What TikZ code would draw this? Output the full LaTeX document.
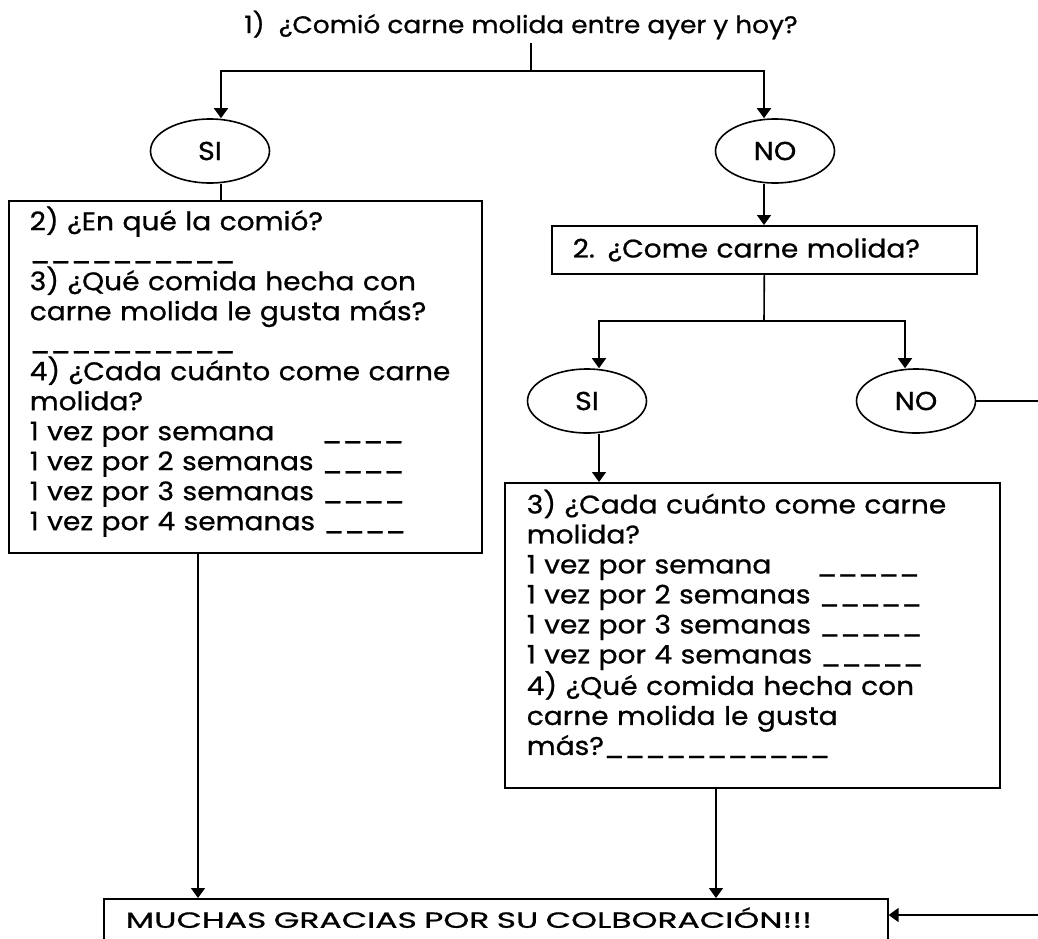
\documentclass[tikz,border=0pt]{standalone}
\usepackage{fontspec}
\setmainfont[FakeBold=0.8, FakeStretch=1.1]{Poppins}
\usetikzlibrary{arrows.meta, positioning, shapes.geometric}

\tikzset{
  flow/.style={line width=1.6pt, draw=black},
  arr/.style={flow, -{Triangle[length=10pt, width=14pt]}},
  answer/.style={ellipse, draw, line width=1.6pt, minimum width=119pt,
    minimum height=64pt, inner sep=0pt, font=\fontsize{26}{28}\selectfont},
  qbox/.style={rectangle, draw, line width=1.6pt, anchor=north west,
    align=left, inner xsep=21pt, font=\fontsize{25.5}{30}\selectfont},
}

\begin{document}
\begin{tikzpicture}[x=1pt, y=-1pt]
\useasboundingbox (0,0) rectangle (1038,938);
\clip (0,0) rectangle (1038,938);

% Question 1
\node[font=\fontsize{24}{26}\selectfont, inner sep=3pt] (q1) at (521,25) {1)~~¿Comió carne molida entre ayer y hoy?};
\coordinate (sp1) at (531,71);
\node[answer] (si1) at (210,151) {SI};
\node[answer] (no1) at (775,151) {NO};
\draw[flow] (q1.south -| sp1) -- (sp1);
\draw[arr] (sp1) -| ([xshift=11pt]si1.north);
\draw[arr] (sp1) -| ([xshift=-11pt]no1.north);

% Left branch
\node[qbox, minimum width=473pt, minimum height=352pt, text width=431pt] (b1) at (8,200) {%
2) ¿En qué la comió?\\
\_\_\_\_\_\_\_\_\_\_\\
3) ¿Qué comida hecha con\\
carne molida le gusta más?\\
\_\_\_\_\_\_\_\_\_\_\\
4) ¿Cada cuánto come carne\\
molida?\\
\makebox[292pt][l]{1 vez por semana}\_\_\_\_\\
1 vez por 2 semanas \_\_\_\_\\
1 vez por 3 semanas \_\_\_\_\\
1 vez por 4 semanas \_\_\_\_\rule[-17pt]{0pt}{17pt}};
\draw[flow] ([xshift=11pt]si1.south) -- ([xshift=11pt]si1.south |- b1.north);

% Right branch
\node[qbox, minimum width=425pt, minimum height=48pt, text width=383pt] (b2) at (551,225) {2. ¿Come carne molida?};
\draw[arr] ([xshift=-11pt]no1.south) -- ([xshift=-11pt]no1.south |- b2.north);
\coordinate (sp2) at (764,321);
\node[answer] (si2) at (587,401) {SI};
\node[answer] (no2) at (916,401) {NO};
\draw[flow] (b2.south) -- (sp2);
\draw[arr] (sp2) -| ([xshift=12pt]si2.north);
\draw[arr] (sp2) -| ([xshift=-11pt]no2.north);

\node[qbox, minimum width=495pt, minimum height=305pt, text width=451pt] (b3) at (504,482) {%
3) ¿Cada cuánto come carne\\
molida?\\
\makebox[290pt][l]{1 vez por semana}\_\_\_\_\_\\
1 vez por 2 semanas \_\_\_\_\_\\
1 vez por 3 semanas \_\_\_\_\_\\
1 vez por 4 semanas \_\_\_\_\_\\
4) ¿Qué comida hecha con\\
carne molida le gusta\\
más?\_\_\_\_\_\_\_\_\_\_\_\rule[-26pt]{0pt}{26pt}};
\draw[arr] ([xshift=12pt]si2.south) -- ([xshift=12pt]si2.south |- b3.north);

% Closing box
\node[qbox, minimum width=777pt, minimum height=46pt, text width=740pt, inner xsep=22pt,
  text height=17pt, text depth=5pt, inner ysep=4pt,
  font=\fontsize{22}{24}\selectfont\addfontfeature{FakeStretch=1.5}] (fin) at (103,898) {MUCHAS GRACIAS POR SU COLBORACIÓN!!!};
\coordinate (edgeR) at (1045,915);
\draw[arr] ([xshift=190pt]b1.south west) -- ([xshift=190pt]b1.south west |- fin.north);
\draw[arr] ([xshift=212pt]b3.south west) -- ([xshift=212pt]b3.south west |- fin.north);
\draw[arr] (no2.east) -| (edgeR) -- (edgeR -| fin.east);

\end{tikzpicture}
\end{document}
